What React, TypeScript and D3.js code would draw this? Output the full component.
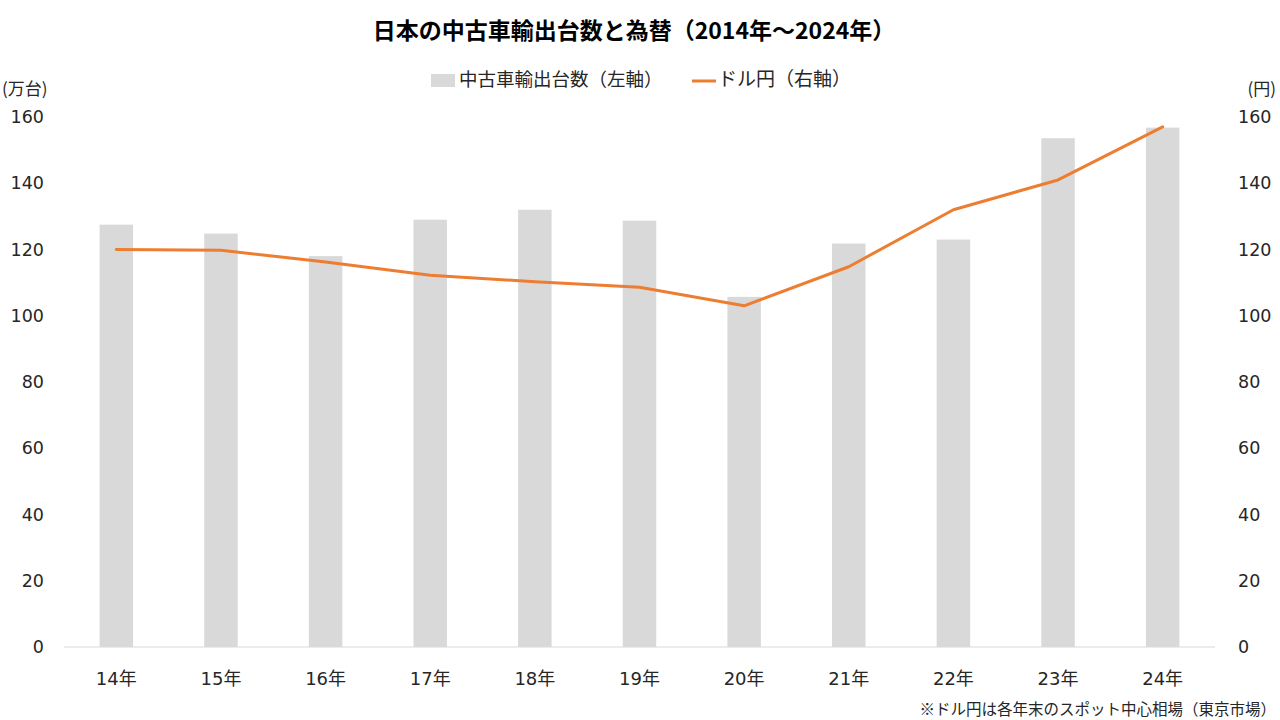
import React from "react";
import * as d3 from "d3";

const years = ["14年", "15年", "16年", "17年", "18年", "19年", "20年", "21年", "22年", "23年", "24年"];
const exportsUnits = [127.5, 124.8, 118.0, 129.0, 132.0, 128.7, 105.7, 121.8, 123.0, 153.6, 156.8];
const usdJpy = [120.0, 119.8, 116.2, 112.2, 110.3, 108.6, 103.0, 114.8, 132.0, 141.0, 157.0];
const yTicks = [0, 20, 40, 60, 80, 100, 120, 140, 160];

const W = 1280, H = 720;
const FONT = "'Noto Sans CJK JP', 'Noto Sans', sans-serif";
const NUMFONT = "'DejaVu Sans', 'Noto Sans CJK JP', sans-serif";

export default function App() {
  const x = d3.scaleBand<string>().domain(years).range([64, 1215]).paddingInner(0.68).paddingOuter(0.34);
  const yL = d3.scaleLinear().domain([0, 160]).range([647, 117]);
  const yR = d3.scaleLinear().domain([0, 160]).range([647, 117]);
  const cx = (d: string) => (x(d) as number) + x.bandwidth() / 2;
  const line = d3.line<number>().x((_, i) => cx(years[i])).y((v) => yR(v));

  return (
    <svg width={W} height={H} style={{ position: "absolute", left: 0, top: 0, background: "#fff" }} fontFamily={FONT}>
      <text x={634} y={39} textAnchor="middle" fontSize={23} fontWeight="bold" fill="#000">日本の中古車輸出台数と為替（2014年～2024年）</text>
      {/* legend */}
      <rect x={431} y={74} width={24} height={13} fill="#d9d9d9" />
      <text x={459} y={86} fontSize={18.5} fill="#262626">中古車輸出台数（左軸）</text>
      <line x1={692} y1={81} x2={716} y2={81} stroke="#ed7d31" strokeWidth={3} />
      <text x={718} y={86} fontSize={19} fill="#262626">ドル円（右軸）</text>

      <text x={2} y={95} fontSize={17} fill="#262626">(万台)</text>
      <text x={1276} y={95} fontSize={17} fill="#262626" textAnchor="end">(円)</text>

      {yTicks.map((t) => (
        <g key={t} fontFamily={NUMFONT}>
          <text x={44} y={yL(t) + 6} textAnchor="end" fontSize={17.5} fill="#262626">{t}</text>
          <text x={1238} y={yR(t) + 6} textAnchor="start" fontSize={17.5} fill="#262626">{t}</text>
        </g>
      ))}

      {years.map((yr, i) => (
        <rect key={yr} x={x(yr)} y={yL(exportsUnits[i])} width={x.bandwidth()} height={yL(0) - yL(exportsUnits[i])} fill="#d9d9d9" />
      ))}
      <line x1={64} x2={1215} y1={yL(0)} y2={yL(0)} stroke="#d9d9d9" strokeWidth={1} />

      <path d={line(usdJpy) || ""} fill="none" stroke="#ed7d31" strokeWidth={3} strokeLinejoin="round" strokeLinecap="round" />

      {years.map((yr) => (
        <text key={yr} x={cx(yr)} y={685} textAnchor="middle" fontSize={18} fontFamily={NUMFONT} fill="#262626">{yr}</text>
      ))}

      <text x={1276} y={715} textAnchor="end" fontSize={15.5} fill="#262626">※ドル円は各年末のスポット中心相場（東京市場）</text>
    </svg>
  );
}
